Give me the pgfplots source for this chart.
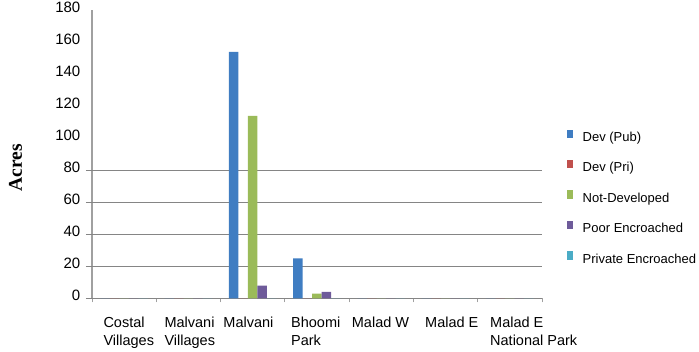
\documentclass[border=0pt]{standalone}
\usepackage{pgfplots}
\pgfplotsset{compat=1.18}
\usepackage{fontspec}
\setmainfont{Liberation Sans}
\newfontfamily\labelserif{Liberation Serif}

\definecolor{cPub}{HTML}{3F7DC2}
\definecolor{cPri}{HTML}{C0504D}
\definecolor{cNot}{HTML}{9BBB59}
\definecolor{cPoor}{HTML}{6E5B9A}
\definecolor{cPriv}{HTML}{4BACC6}
\definecolor{gridgray}{HTML}{858585}
\definecolor{axisgray}{HTML}{A0A0A0}

\begin{document}
\begin{tikzpicture}
\path[use as bounding box] (-92pt,-52.7pt) rectangle (607pt,298.3pt);
\begin{axis}[
  at={(0,0)}, anchor=south west,
  scale only axis,
  width=450pt, height=288pt,
  xmin=-0.5, xmax=6.5,
  ymin=0, ymax=180,
  enlargelimits=false,
  axis lines=left,
  x axis line style={-, draw=gridgray, line width=1.4pt},
  y axis line style={-, draw=axisgray, line width=1.4pt},
  ybar=0pt,
  bar width=9.5pt,
  /pgf/number format/assume math mode=true,
  ytick={0,20,...,180},
  major tick length=0pt,
  yticklabel style={font=\fontsize{15}{17}\selectfont, anchor=east, inner sep=0pt, xshift=-11.5pt, yshift=2.5pt},
  extra y ticks={0,20,40,60,80},
  extra y tick labels={},
  extra y tick style={grid=major, major grid style={draw=gridgray, line width=1.4pt},
                      tick style={draw=gridgray, line width=1.4pt}, major tick length=6pt, tick align=outside},
  xtick={-0.324,0.625,1.542,2.595,3.540,4.680,5.691},
  xticklabels={{Costal\\Villages},{Malvani\\Villages},{Malvani},{Bhoomi\\Park},{Malad W},{Malad E},{Malad E\\National Park}},
  xticklabel style={font=\fontsize{14.5}{17.7}\selectfont, align=left, anchor=north west, inner sep=0pt, yshift=-18.4pt},
  extra x ticks={-0.5,0.5,1.5,2.5,3.5,4.5,5.5,6.5},
  extra x tick labels={},
  extra x tick style={tick style={draw=axisgray, line width=0.9pt}, major tick length=4pt, tick align=outside},
  ylabel={\labelserif\bfseries Acres},
  ylabel style={font=\fontsize{19.5}{22}\selectfont, at={(axis description cs:-0.17,0.454)}, anchor=center, rotate=0},
  legend style={draw=none, fill=none, inner sep=0pt, outer sep=0pt,
                at={(rel axis cs:1.0549,0.586)}, anchor=north west,
                font=\fontsize{13}{15}\selectfont,
                column sep=10pt, row sep=15.7pt,
                nodes={inner sep=0pt, text height=9.5pt, text depth=3pt}},
  legend cell align=left,
  legend image code/.code={\fill[#1] (0pt,0pt) rectangle (6pt,8.5pt);},
]
% acreage per area and land-use class
\addplot[draw=none, fill=cPub]   coordinates {(0,0) (1,0) (2,154) (3,25) (4,0) (5,0) (6,0)};
\addplot[draw=none, fill=cPri]   coordinates {(0,0) (1,0) (2,0) (3,0) (4,0) (5,0) (6,0)};
\addplot[draw=none, fill=cNot]   coordinates {(0,0) (1,0) (2,114) (3,3) (4,0) (5,0) (6,0)};
\addplot[draw=none, fill=cPoor]  coordinates {(0,0) (1,0) (2,8) (3,4) (4,0) (5,0) (6,0)};
\addplot[draw=none, fill=cPriv]  coordinates {(0,0) (1,0) (2,0) (3,0) (4,0) (5,0) (6,0)};
\legend{Dev (Pub),Dev (Pri),Not-Developed,Poor Encroached,Private Encroached}
\end{axis}
\end{tikzpicture}
\end{document}
